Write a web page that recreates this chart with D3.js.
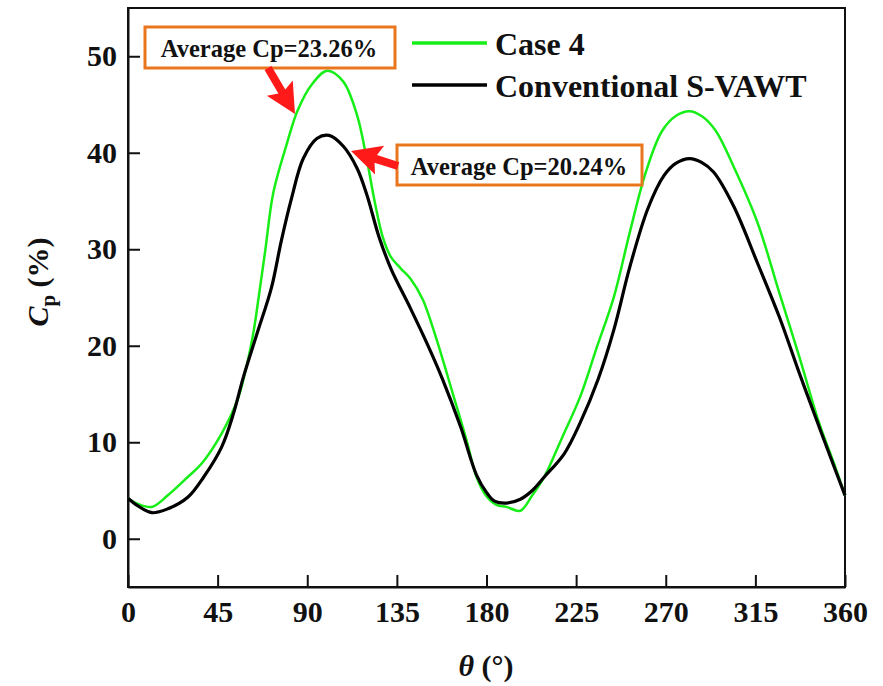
<!DOCTYPE html>
<html>
<head>
<meta charset="utf-8">
<script src="https://cdn.jsdelivr.net/npm/d3@7"></script>
<style>
  body { margin: 0; background: #fff; }
  text { font-family: "Liberation Serif", "Times New Roman", serif; font-weight: bold; fill: #111; }
</style>
</head>
<body>
<svg id="chart"></svg>
<script>
// data
const case4Theta = [0, 5, 12, 20, 30, 37, 47, 55, 60, 63, 66, 69, 73, 80, 85, 92, 100, 108, 115, 120, 124, 128, 132, 137, 142, 148, 155, 163, 170, 175, 180, 185, 190, 197, 203, 209, 218, 227, 235, 244, 252, 260, 268, 275, 282, 288, 295, 304, 316, 327, 337, 347, 355, 360];
const case4Cp = [4.2, 3.6, 3.3, 4.5, 6.4, 7.8, 10.9, 14.4, 18.3, 21.4, 25.6, 30, 35.9, 41.1, 44.3, 47, 48.5, 47.4, 43.9, 39.2, 34.8, 31.2, 29.2, 28, 26.9, 24.8, 20.6, 15.1, 10.2, 6.4, 4.4, 3.5, 3.3, 2.9, 4.5, 6.4, 10.5, 14.7, 19.6, 25.1, 31.8, 38, 42.2, 43.8, 44.3, 43.8, 42.3, 38.6, 32.8, 25.5, 18.9, 12, 7.5, 4.5];

const convTheta = [0, 5, 12, 20, 30, 38, 47, 53, 58, 65, 72, 77, 82, 88, 95, 101, 108, 115, 120, 126, 132, 142, 150, 158, 167, 175, 180, 184, 190, 197, 203, 209, 219, 227, 236, 244, 252, 261, 269, 275, 282, 288, 294, 304, 316, 327, 337, 347, 355, 360];
const convCp = [4.2, 3.4, 2.7, 3.1, 4.3, 6.4, 9.5, 13, 16.8, 21.4, 26, 30.9, 35.2, 39.4, 41.5, 41.8, 40.7, 38.4, 35.6, 31.3, 28, 23.8, 20.3, 16.5, 11.6, 6.6, 4.8, 3.9, 3.7, 4.1, 5, 6.4, 8.8, 12, 16.5, 21.7, 28.2, 34.2, 37.6, 38.9, 39.4, 39, 38, 34.5, 28.6, 23, 17.2, 11.6, 7.2, 4.5];

const xTicks = [0, 45, 90, 135, 180, 225, 270, 315, 360];
const yTicks = [0, 10, 20, 30, 40, 50];
const seriesNames = ["Case 4", "Conventional S-VAWT"];
const seriesColors = ["#17ee17", "#000000"];
const notes = ["Average Cp=23.26%", "Average Cp=20.24%"];

const width = 883, height = 686;
const margin = { top: 8, right: 38, bottom: 99, left: 128 };

const svg = d3.select("#chart").attr("width", width).attr("height", height);

const x = d3.scaleLinear().domain([0, 360]).range([margin.left, width - margin.right]);
const y = d3.scaleLinear().domain([-5, 55]).range([height - margin.bottom, margin.top]);

// frame
svg.append("rect")
  .attr("x", x(0)).attr("y", y(55))
  .attr("width", x(360) - x(0)).attr("height", y(-5) - y(55))
  .attr("fill", "none").attr("stroke", "#111").attr("stroke-width", 2);

const xAxis = svg.append("g")
  .attr("transform", `translate(0,${y(-5)})`)
  .call(d3.axisBottom(x).tickValues(xTicks).tickSizeInner(-12).tickSizeOuter(0).tickPadding(10));
const yAxis = svg.append("g")
  .attr("transform", `translate(${x(0)},0)`)
  .call(d3.axisLeft(y).tickValues(yTicks).tickSizeInner(-12).tickSizeOuter(0).tickPadding(11));

[xAxis, yAxis].forEach(g => {
  g.select(".domain").attr("stroke", "#111").attr("stroke-width", 2);
  g.selectAll(".tick line").attr("stroke", "#111").attr("stroke-width", 2);
  g.selectAll(".tick text").attr("font-size", 30).attr("fill", "#111")
    .style("font-family", '"Liberation Serif", serif').style("font-weight", "bold");
});
xAxis.selectAll(".tick text").attr("dy", "0.82em");

// axis titles
const xl = svg.append("text").attr("x", 486).attr("y", 676).attr("text-anchor", "middle").attr("font-size", 30);
xl.append("tspan").attr("font-style", "italic").text("θ");
xl.append("tspan").text(" (°)");

const yl = svg.append("text").attr("transform", "translate(48,282) rotate(-90)")
  .attr("text-anchor", "middle").attr("font-size", 30);
yl.append("tspan").attr("font-style", "italic").text("C");
yl.append("tspan").attr("font-size", 21).attr("dy", 7).text("p");
yl.append("tspan").attr("dy", -7).text(" (%)");

// curves
const line = d3.line()
  .x(d => x(d[0]))
  .y(d => y(d[1]))
  .curve(d3.curveCatmullRom.alpha(0.5));

svg.append("path")
  .datum(d3.zip(case4Theta, case4Cp))
  .attr("fill", "none").attr("stroke", seriesColors[0]).attr("stroke-width", 2.5)
  .attr("d", line);
svg.append("path")
  .datum(d3.zip(convTheta, convCp))
  .attr("fill", "none").attr("stroke", seriesColors[1]).attr("stroke-width", 3.2)
  .attr("stroke-linejoin", "round")
  .attr("d", line);

// legend
const legend = svg.append("g");
seriesNames.forEach((name, i) => {
  const ly = 43 + i * 42;
  legend.append("line").attr("x1", 412).attr("x2", 487).attr("y1", ly).attr("y2", ly)
    .attr("stroke", seriesColors[i]).attr("stroke-width", 3.5);
  legend.append("text").attr("x", 495).attr("y", ly + 12).attr("font-size", 32).text(name);
});

// annotation boxes
const boxes = [
  { x: 145, y: 27, w: 250, h: 41, tx: 269, ty: 57 },
  { x: 397, y: 145, w: 245, h: 40, tx: 519, ty: 175 }
];
boxes.forEach((b, i) => {
  svg.append("rect").attr("x", b.x).attr("y", b.y).attr("width", b.w).attr("height", b.h)
    .attr("fill", "#fff").attr("fill-opacity", 0.85).attr("stroke", "#e9761d").attr("stroke-width", 3);
  svg.append("text").attr("x", b.tx).attr("y", b.ty).attr("text-anchor", "middle")
    .attr("font-size", 24.5).attr("fill", "#1a1a1a").text(notes[i]);
});

// arrows
function arrow(x0, y0, x1, y1) {
  const ang = Math.atan2(y1 - y0, x1 - x0);
  const len = Math.hypot(x1 - x0, y1 - y0);
  const g = svg.append("g").attr("transform", `translate(${x0},${y0}) rotate(${ang * 180 / Math.PI})`);
  const head = 26, hw = 15, sw = 4;
  g.append("path")
    .attr("d", `M0,${-sw} L${len - head},${-sw} L${len - head - 4},${-hw} L${len},0 L${len - head - 4},${hw} L${len - head},${sw} L0,${sw} Z`)
    .attr("fill", "#ff1a1a");
}
arrow(268, 68, 295, 114);
arrow(398, 166, 351, 151);
</script>
</body>
</html>
